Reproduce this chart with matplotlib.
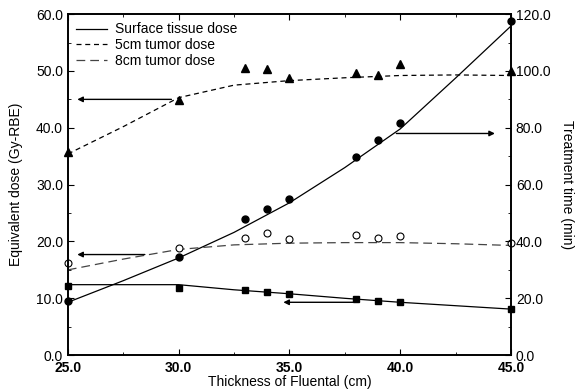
import matplotlib
matplotlib.use('Agg')
import matplotlib.pyplot as plt
from matplotlib.ticker import MultipleLocator, FormatStrFormatter

plt.rcParams['font.family'] = ['Liberation Sans', 'DejaVu Sans']

# measured points
thick = [25, 30, 33, 34, 35, 38, 39, 40, 45]
surface_dose = [12.2, 11.8, 11.4, 11.1, 10.8, 9.8, 9.5, 9.3, 8.1]     # squares, Gy-RBE
tumor5_dose = [35.7, 44.9, 50.6, 50.3, 48.8, 49.6, 49.3, 51.3, 50.0]  # triangles
tumor8_dose = [16.2, 18.9, 20.6, 21.5, 20.5, 21.1, 20.6, 20.9, 19.7]  # open circles
treat_time = [19.0, 34.6, 47.8, 51.6, 55.0, 69.8, 75.6, 81.7, 117.6]  # filled circles, min

# fitted curves
fit_x = [25, 27.5, 30, 32.5, 35, 37.5, 40, 42.5, 45]
surface_fit = [12.4, 12.4, 12.4, 11.5, 10.8, 10.0, 9.3, 8.7, 8.1]
tumor5_fit = [35.4, 40.2, 45.3, 47.5, 48.3, 48.8, 49.2, 49.3, 49.2]
tumor8_fit = [15.0, 16.9, 18.6, 19.4, 19.7, 19.8, 19.8, 19.6, 19.3]
time_fit = [18.6, 26.2, 34.2, 43.2, 53.6, 66.0, 79.6, 97.5, 115.8]

fig = plt.figure(figsize=(5.8, 3.92), dpi=100)
ax = fig.add_axes([0.117, 0.094, 0.764, 0.870])
ax2 = ax.twinx()

ax.plot(fit_x, surface_fit, color='black', lw=0.9, label='Surface tissue dose')
ax.plot(fit_x, tumor5_fit, color='black', lw=0.9, dashes=(4, 3), label='5cm tumor dose')
ax.plot(fit_x, tumor8_fit, color='#444444', lw=0.9, dashes=(7, 4), label='8cm tumor dose')
ax.plot(thick, surface_dose, 's', color='black', ms=5, clip_on=False)
ax.plot(thick, tumor5_dose, '^', color='black', ms=5.5, clip_on=False)
ax.plot(thick, tumor8_dose, 'o', mfc='white', mec='black', mew=0.8, ms=5, clip_on=False)

ax2.plot(fit_x, time_fit, color='black', lw=0.9)
ax2.plot(thick, treat_time, 'o', color='black', ms=5, clip_on=False)

arrow = dict(arrowstyle='-|>', color='black', lw=1.0, mutation_scale=8)
ax.annotate('', xy=(25.3, 45.0), xytext=(29.8, 45.0), arrowprops=arrow)
ax.annotate('', xy=(25.3, 17.7), xytext=(28.6, 17.7), arrowprops=arrow)
ax.annotate('', xy=(34.6, 9.3), xytext=(38.0, 9.3), arrowprops=arrow)
ax2.annotate('', xy=(44.4, 78.0), xytext=(39.7, 78.0), arrowprops=arrow)

ax.set_xlim(25, 45)
ax.set_ylim(0, 60)
ax2.set_ylim(0, 120)

ax.xaxis.set_major_locator(MultipleLocator(5))
ax.xaxis.set_minor_locator(MultipleLocator(2.5))
ax.yaxis.set_major_locator(MultipleLocator(10))
ax.yaxis.set_minor_locator(MultipleLocator(5))
ax2.yaxis.set_major_locator(MultipleLocator(20))
ax2.yaxis.set_minor_locator(MultipleLocator(10))
for a in (ax.xaxis, ax.yaxis, ax2.yaxis):
    a.set_major_formatter(FormatStrFormatter('%.1f'))

ax.tick_params(which='both', direction='in', top=True, labelsize=10, colors='black')
ax.tick_params(which='major', length=4)
ax.tick_params(which='minor', length=2.5)
ax2.tick_params(which='major', direction='in', length=4, labelsize=10)
ax2.tick_params(which='minor', direction='in', length=2.5)
for lbl in ax.get_xticklabels():
    lbl.set_fontweight('bold')
ax.tick_params(axis='x', pad=4)

for s in ax.spines.values():
    s.set_linewidth(1.2)
for s in ax2.spines.values():
    s.set_linewidth(1.2)

ax.set_xlabel('Thickness of Fluental (cm)', fontsize=10, labelpad=0)
ax.set_ylabel('Equivalent dose (Gy-RBE)', fontsize=10, labelpad=9)
ax2.set_ylabel('Treatment time (min)', fontsize=10, rotation=270, labelpad=17)

ax.legend(loc='upper left', frameon=False, fontsize=10, handlelength=2.2,
          borderaxespad=0.4, borderpad=0.2, labelspacing=0.12, handletextpad=0.6)

fig.savefig('out.png', dpi=100)
